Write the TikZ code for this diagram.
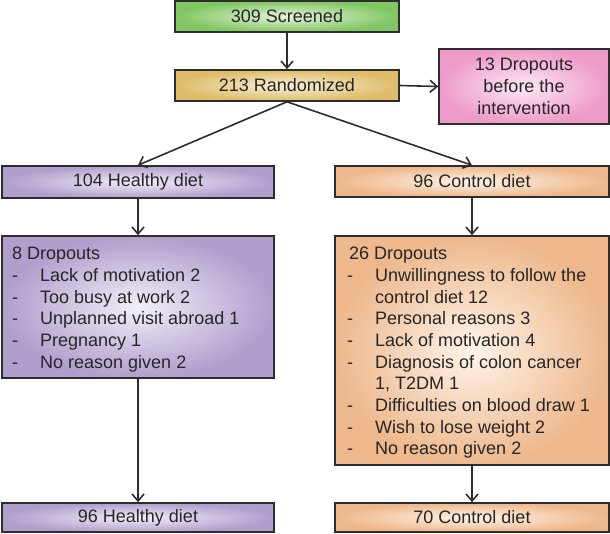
\documentclass[tikz,border=0pt]{standalone}
\usepackage{fontspec}
\setmainfont{Liberation Sans}
\usetikzlibrary{arrows.meta}
\definecolor{bordc}{RGB}{45,45,45}
\definecolor{grnO}{RGB}{128,198,98}
\definecolor{grnI}{RGB}{232,242,220}
\definecolor{gldO}{RGB}{222,188,105}
\definecolor{gldI}{RGB}{248,240,218}
\definecolor{pnkO}{RGB}{238,155,200}
\definecolor{pnkI}{RGB}{252,232,244}
\definecolor{prpO}{RGB}{176,158,204}
\definecolor{prpI}{RGB}{242,238,248}
\definecolor{orgO}{RGB}{238,184,140}
\definecolor{orgI}{RGB}{254,244,234}
\tikzset{
  box/.style={draw=bordc, line width=1.6pt, rectangle, inner sep=0pt,
    font=\fontsize{18}{21.7}\selectfont, text=black!85},
  listtxt/.style={inner sep=0pt, anchor=north west, font=\fontsize{18}{21.7}\selectfont, text=black!85},
  conn/.style={draw=bordc, line width=1.6pt, -{Straight Barb[length=7pt,width=12pt,line width=1.6pt]}},
  plainline/.style={draw=bordc, line width=1.6pt}
}
\begin{document}
\begin{tikzpicture}[x=1pt,y=-1pt]
\useasboundingbox (0,0) rectangle (610,533);
\node[box, inner color=grnI, outer color=grnO, minimum width=224pt, minimum height=31pt] (scr) at (287,16.5) {309 Screened};
\node[box, inner color=gldI, outer color=gldO, minimum width=224pt, minimum height=31pt] (rnd) at (287,85.5) {213 Randomized};
\node[box, inner color=pnkI, outer color=pnkO, minimum width=170pt, minimum height=75pt, align=center] (pre) at (524,86.5) {13 Dropouts\\before the\\intervention};
\node[box, inner color=prpI, outer color=prpO, minimum width=272pt, minimum height=32pt] (hd) at (138,182) {104 Healthy diet};
\node[box, inner color=orgI, outer color=orgO, minimum width=274pt, minimum height=31pt] (cd) at (472,181.5) {96 Control diet};
\node[box, inner color=prpI, outer color=prpO, minimum width=272pt, minimum height=142pt] (ld) at (138,307) {};
\node[box, inner color=orgI, outer color=orgO, minimum width=274pt, minimum height=229pt] (rd) at (472,350.5) {};
\node[box, inner color=prpI, outer color=prpO, minimum width=272pt, minimum height=29pt] (hd2) at (138,517.5) {96 Healthy diet};
\node[box, inner color=orgI, outer color=orgO, minimum width=274pt, minimum height=29pt] (cd2) at (472,517.5) {70 Control diet};
\node[listtxt] (ldt) at (12,244.3) {\begin{tabular}{@{}p{28pt}@{}l@{}}
\multicolumn{2}{@{}l@{}}{8 Dropouts}\\
-& Lack of motivation 2\\
-& Too busy at work 2\\
-& Unplanned visit abroad 1\\
-& Pregnancy 1\\
-& No reason given 2
\end{tabular}};
\node[listtxt] (rdt) at (347,244.3) {\begin{tabular}{@{}p{28pt}@{}l@{}}
\multicolumn{2}{@{}l@{}}{\hspace{2pt}26 Dropouts}\\
-& Unwillingness to follow the\\
 & control diet 12\\
-& Personal reasons 3\\
-& Lack of motivation 4\\
-& Diagnosis of colon cancer\\
 & 1, T2DM 1\\
-& Difficulties on blood draw 1\\
-& Wish to lose weight 2\\
-& No reason given 2
\end{tabular}};
\draw[conn] (scr.south) -- (rnd.north);
\draw[conn] (rnd.east) -- (pre.west);
\draw[conn] (rnd.south) -- (hd.north);
\draw[conn] (rnd.south) -- (cd.north);
\draw[conn] (hd.south) -- (ld.north);
\draw[conn] (cd.south) -- (rd.north);
\draw[conn] (ld.south) -- (hd2.north);
\draw[conn] (rd.south) -- (cd2.north);
\end{tikzpicture}
\end{document}
